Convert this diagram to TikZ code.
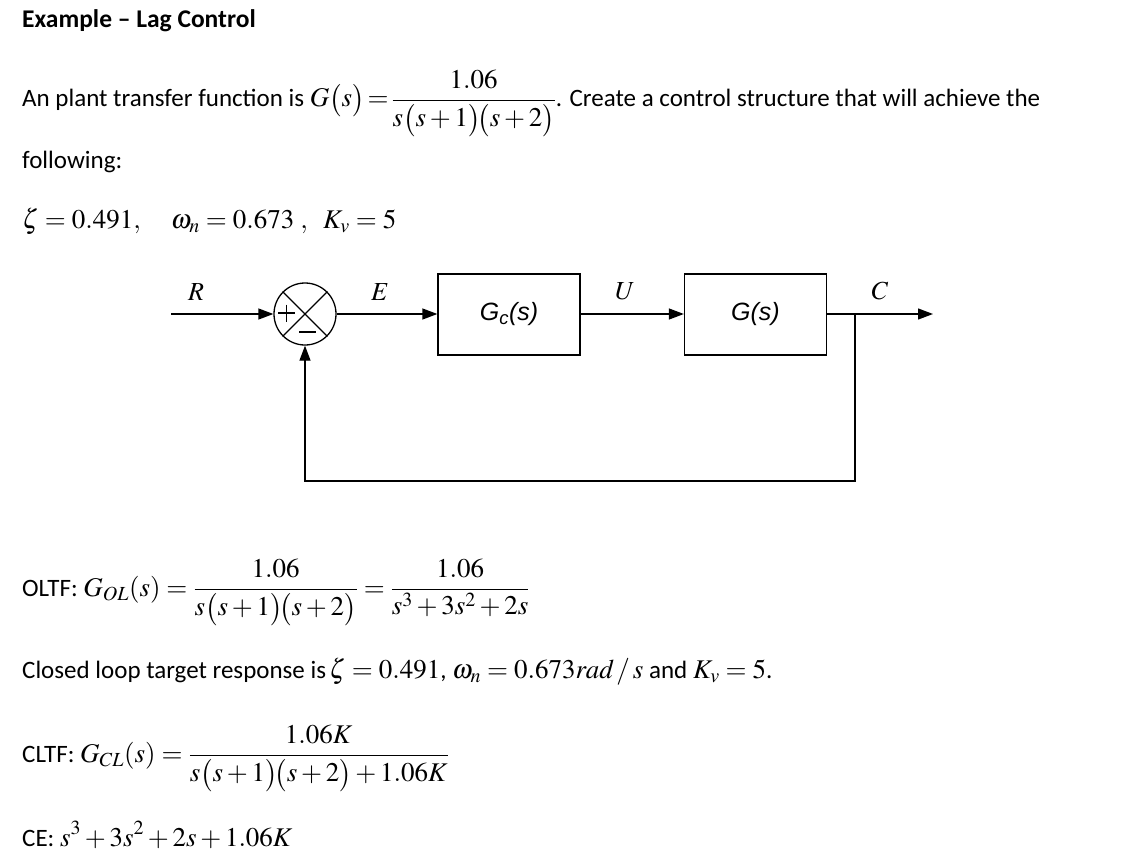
\documentclass[tikz,border=0pt]{standalone}
\usepackage{mathptmx}
\usepackage{amsmath}
\usepackage[no-math]{fontspec}
\setmainfont{Carlito}
\newfontfamily\arialf{Liberation Sans}
\usetikzlibrary{arrows.meta,calc}
\newcommand{\mth}[1]{{\fontsize{27}{30}\selectfont$\displaystyle #1$}}
\begin{document}
\begin{tikzpicture}[x=1pt,y=-1pt,
  txt/.style={anchor=base west,inner sep=0pt,font=\fontsize{25}{30}\selectfont},
  lbl/.style={inner sep=0pt,font=\fontsize{26}{28}\selectfont},
  blk/.style={draw,line width=1.3pt,minimum width=142pt,minimum height=81pt,inner sep=0pt,font=\arialf\itshape\fontsize{25}{28}\selectfont},
  sig/.style={line width=1.3pt},
  arr/.style={sig,-{Triangle[length=15pt,width=11pt]}}]
\useasboundingbox (0,0) rectangle (1148,864);
\fill[white] (0,0) rectangle (1148,864);
% texts
\node[txt,font=\bfseries\fontsize{25.5}{30}\selectfont] (title) at (22,28) {Example – Lag Control};
\node[txt] (l1) at (22,107) {An plant transfer function is \mth{G\bigl(s\bigr)\!=\!\frac{1.06}{s\bigl(s+1\bigr)\!\bigl(s+2\bigr)}}. Create a control structure that will achieve the};
\node[txt] (l2) at (22,168) {following:};
\node[txt] (l3) at (22,228) {\mth{\zeta=0.491,\quad \omega_n=0.673\ ,\ \ K_v=5}};
% block diagram
\coordinate (rin) at (171,314);
\node[draw,circle,line width=1.3pt,minimum size=62pt,inner sep=0pt] (sum) at (305,314) {};
\draw[sig] (sum.north west) -- (sum.south east);
\draw[sig] (sum.north east) -- (sum.south west);
\draw[sig] ($(sum.center)+(-27,-1)$) -- ++(17,0);
\draw[sig] ($(sum.center)+(-18.5,-9.5)$) -- ++(0,17);
\draw[sig] ($(sum.center)+(-6,18)$) -- ++(17,0);
\node[blk] (gc) at (509,314.5) {G\textsubscript{c}(s)};
\node[blk] (g) at (755.5,314.5) {G(s)};
\coordinate (br) at (855,314);
\coordinate (out) at (933,314);
\coordinate (fb1) at (855,481);
\coordinate (fb2) at (305,481);
\draw[arr] (rin) -- (sum.west);
\draw[arr] (sum.east) -- (gc.west |- sum.east);
\draw[arr] (gc.east |- sum.east) -- (g.west |- sum.east);
\draw[arr] (g.east |- br) -- (out);
\draw[arr] (br) -- (fb1) -- (fb2) -- (sum.south);
\node[lbl] (lr) at (196,292) {$R$};
\node[lbl] (le) at (380,292) {$E$};
\node[lbl] (lu) at (625,291) {$U$};
\node[lbl] (lc) at (880,291) {$C$};
% lower texts
\node[txt] (ol) at (22,596) {OLTF: \mth{G_{OL}(s)=\frac{1.06}{s\bigl(s+1\bigr)\!\bigl(s+2\bigr)}=\frac{1.06}{s^3+3s^2+2s}}};
\node[txt] (cl) at (22,678) {Closed loop target response is\mth{\,\zeta=0.491}, \mth{\omega_n=0.673\mathit{rad}\,/\,s} and \mth{K_v=5}.};
\node[txt] (clt) at (22,762) {CLTF: \mth{G_{CL}(s)=\frac{1.06K}{s\bigl(s+1\bigr)\!\bigl(s+2\bigr)+1.06K}}};
\node[txt] (ce) at (22,846) {CE: \mth{s^3+3s^2+2s+1.06K}};
\end{tikzpicture}
\end{document}
